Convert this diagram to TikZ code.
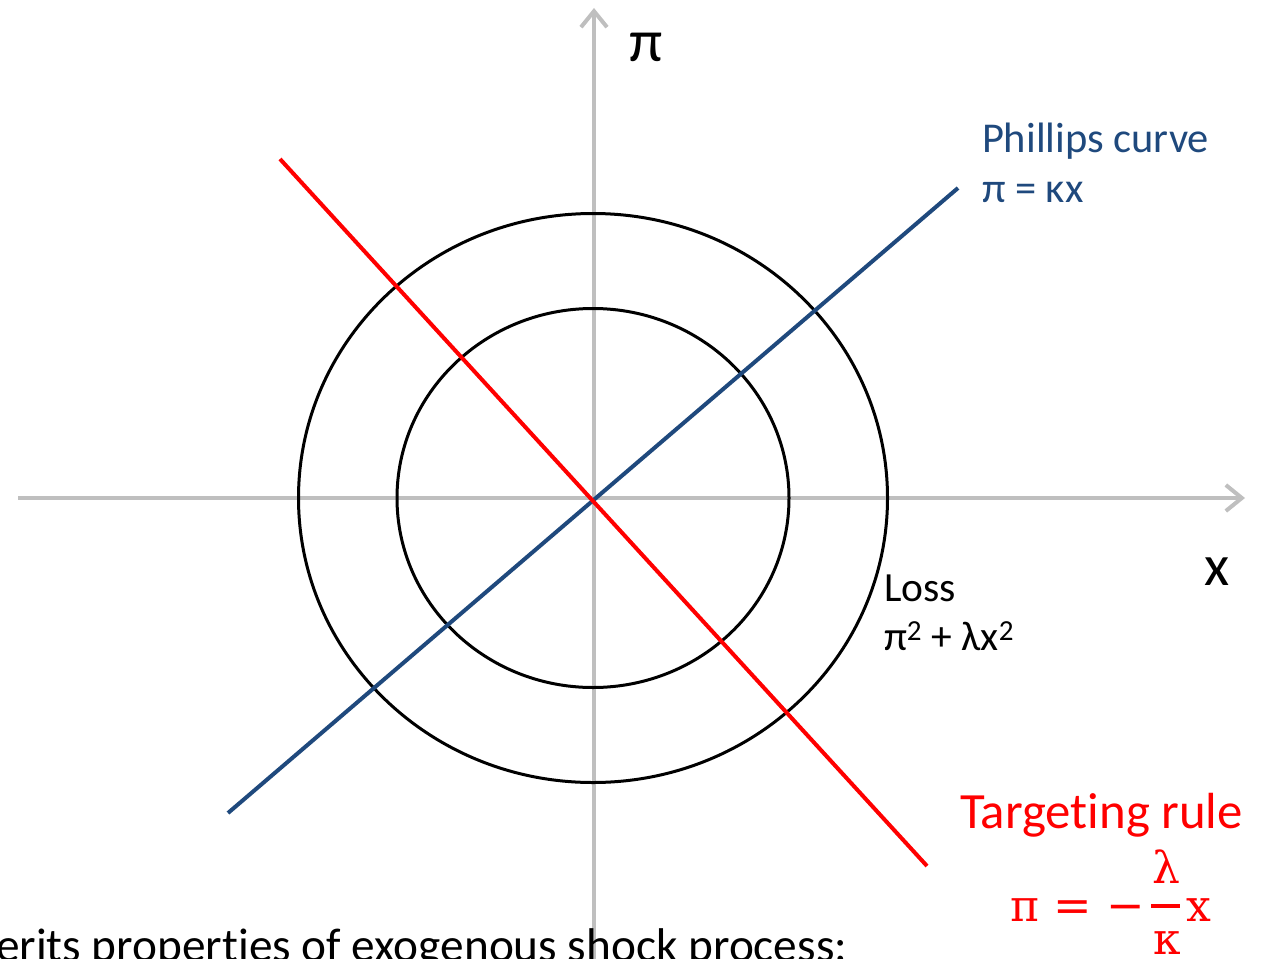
\documentclass[tikz,border=0pt]{standalone}
\usepackage{fontspec}
\setmainfont[Ligatures={NoCommon}]{Carlito}
\newfontfamily\mathserif{DejaVu Serif}
\usetikzlibrary{arrows.meta}
\definecolor{axisgray}{RGB}{191,191,191}
\definecolor{pcblue}{RGB}{31,73,125}
\definecolor{rulered}{RGB}{255,0,0}
\tikzset{
  axisline/.style={draw=axisgray,line width=4pt,-{Straight Barb[length=16pt,width=26pt,line width=4pt]}},
  losscurve/.style={draw=black,line width=3pt},
  pcline/.style={draw=pcblue,line width=4pt},
  redline/.style={draw=rulered,line width=4pt},
  lbl/.style={inner sep=0pt,outer sep=0pt,anchor=base west},
  fs/.style={font=\fontsize{#1}{#1}\selectfont}
}
\begin{document}
\begin{tikzpicture}[x=1pt,y=-1pt]
\useasboundingbox (0,0) rectangle (1265,958);
\clip (0,0) rectangle (1265,958);
% axes
\coordinate (xl) at (18,498);
\coordinate (xr) at (1245,498);
\coordinate (yb) at (594,962);
\coordinate (yt) at (594,8);
\coordinate (O) at (593,498);
\draw[axisline] (xl) -- (xr);
\draw[axisline] (yb) -- (yt);
% loss ellipses
\draw[losscurve] (O) ellipse [x radius=294.5, y radius=284.5];
\draw[losscurve] (O) ellipse [x radius=196, y radius=189.5];
% lines
\coordinate (pcA) at (228,813);
\coordinate (pcB) at (958,188);
\coordinate (trA) at (280,159);
\coordinate (trB) at (927,866);
\draw[pcline] (pcA) -- (pcB);
\draw[redline] (trA) -- (trB);
% axis labels
\node[lbl,fs=60] (pilabel) at (629,61) {π};
\node[lbl,fs=58] (xlabel) at (1204,585) {x};
% Phillips curve
\node[lbl,fs=42.5,text=pcblue] (pc1) at (982,152) {Phillips curve};
\node[lbl,fs=42.5,text=pcblue] (pc2) at (982,202) {π = κx};
% Loss
\node[lbl,fs=41.5] (loss1) at (884,601) {Loss};
\node[lbl,fs=41.5] (loss2) at (884,650) {π\textsuperscript{2} + λx\textsuperscript{2}};
% Targeting rule
\node[lbl,fs=50.8,text=rulered] (tr1) at (960,828) {Targeting rule};
\begin{scope}[every node/.style={inner sep=0pt,outer sep=0pt,anchor=base,text=rulered,font=\mathserif\fontsize{44}{44}\selectfont}]
\node (fpi) at (1025,921) {π};
\node[font=\mathserif\fontsize{46}{46}\selectfont] (feq) at (1073,921) {=};
\node[font=\mathserif\fontsize{46}{46}\selectfont] (fmin) at (1126,921) {−};
\node (flam) at (1166,883) {λ};
\node (fkap) at (1167,954) {κ};
\node (fx) at (1199,921) {x};
\end{scope}
\coordinate (barL) at (1151,906);
\coordinate (barR) at (1180,906);
\draw[draw=rulered,line width=4.5pt] (barL) -- (barR);
% bottom text
\node[lbl,fs=47.3] (bottom) at (-4,961) {erits properties of exogenous shock process:};
\end{tikzpicture}
\end{document}
